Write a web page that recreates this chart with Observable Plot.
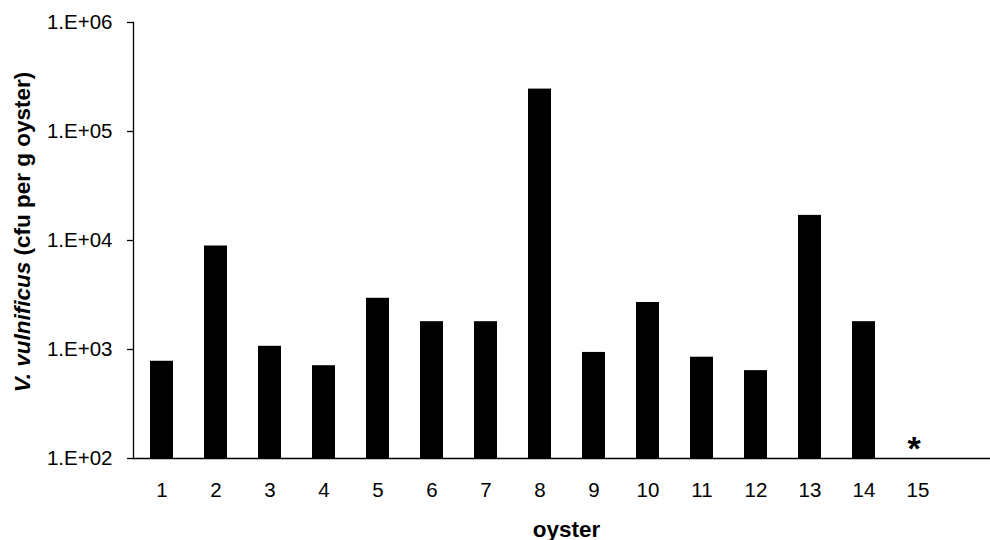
<!DOCTYPE html>
<html>
<head>
<meta charset="utf-8">
<script src="https://cdn.jsdelivr.net/npm/d3@7"></script>
<script src="https://cdn.jsdelivr.net/npm/@observablehq/plot@0.6"></script>
<style>
  html, body { margin: 0; padding: 0; background: #fff; }
  #chart svg { display: block; }
</style>
</head>
<body>
<div id="chart"></div>
<script>
// Oyster number (category) and V. vulnificus count (cfu per g oyster).
// Oyster 15 was below the detection limit and is flagged with an asterisk.
const oysters = ["1", "2", "3", "4", "5", "6", "7", "8", "9", "10", "11", "12", "13", "14", "15"];
const counts = [780, 8900, 1070, 710, 2950, 1800, 1800, 245000, 940, 2700, 850, 640, 17000, 1800, null];
const belowLimitMark = "*";

const yTicks = [1e2, 1e3, 1e4, 1e5, 1e6];
const yTickLabels = ["1.E+02", "1.E+03", "1.E+04", "1.E+05", "1.E+06"];

const yTitle = "V. vulnificus (cfu per g oyster)";
const yTitleItalicPart = "V. vulnificus";
const xTitle = "oyster";

const rows = oysters.map((oyster, i) => ({oyster, count: counts[i]}));
const detected = rows.filter(d => d.count != null);
const notDetected = rows.filter(d => d.count == null);

const font = "'Liberation Sans', Arial, Helvetica, sans-serif";

const chart = Plot.plot({
  width: 990,
  height: 540,
  marginLeft: 133,
  marginRight: 0,
  marginTop: 22,
  marginBottom: 82,
  style: {fontFamily: font, fontSize: "20.5px", color: "#000", background: "#fff", overflow: "visible"},
  x: {domain: oysters, range: [133.4, 944.6], paddingInner: 0.575, paddingOuter: 0.2875},
  y: {type: "log", domain: [1e2, 1e6]},
  marks: [
    Plot.barY(detected, {x: "oyster", y1: 100, y2: "count", fill: "#000"}),
    Plot.text(notDetected, {
      x: "oyster", y: 100, text: () => belowLimitMark,
      fontSize: 34, fontWeight: "bold", fill: "#000", dx: -4, dy: -9
    }),
    Plot.ruleY([1e2], {stroke: "#000", strokeWidth: 1.3}),
    Plot.frame({anchor: "left", stroke: "#000", strokeWidth: 1.3}),
    Plot.axisY({
      ticks: yTicks,
      tickFormat: d => yTickLabels[yTicks.indexOf(d)],
      tickSize: 6, tickPadding: 15, stroke: "#000", strokeWidth: 1.3,
      fill: "#000", label: null
    }),
    Plot.axisX({tickSize: 0, tickPadding: 24, fill: "#000", label: null}),
    Plot.text([xTitle], {
      frameAnchor: "bottom", text: d => d, fontSize: 22.5, fontWeight: "bold",
      textAnchor: "middle", lineAnchor: "middle",
      fill: "#000", dx: 4.5, dy: 71
    }),
    Plot.text([yTitle], {
      frameAnchor: "left", text: d => d, rotate: -90, fontSize: 22.5, fontWeight: "bold",
      textAnchor: "middle", lineAnchor: "middle",
      fill: "#000", dx: -111, dy: -8.5
    })
  ]
});

// Set the species name in italics within the y-axis title.
const titleText = Array.from(chart.querySelectorAll("text")).find(t => t.textContent === yTitle);
if (titleText) {
  const rest = yTitle.slice(yTitleItalicPart.length);
  titleText.textContent = "";
  const ns = "http://www.w3.org/2000/svg";
  const italic = document.createElementNS(ns, "tspan");
  italic.setAttribute("font-style", "italic");
  italic.textContent = yTitleItalicPart;
  const plain = document.createElementNS(ns, "tspan");
  plain.textContent = rest;
  titleText.append(italic, plain);
}

document.getElementById("chart").append(chart);
</script>
</body>
</html>
